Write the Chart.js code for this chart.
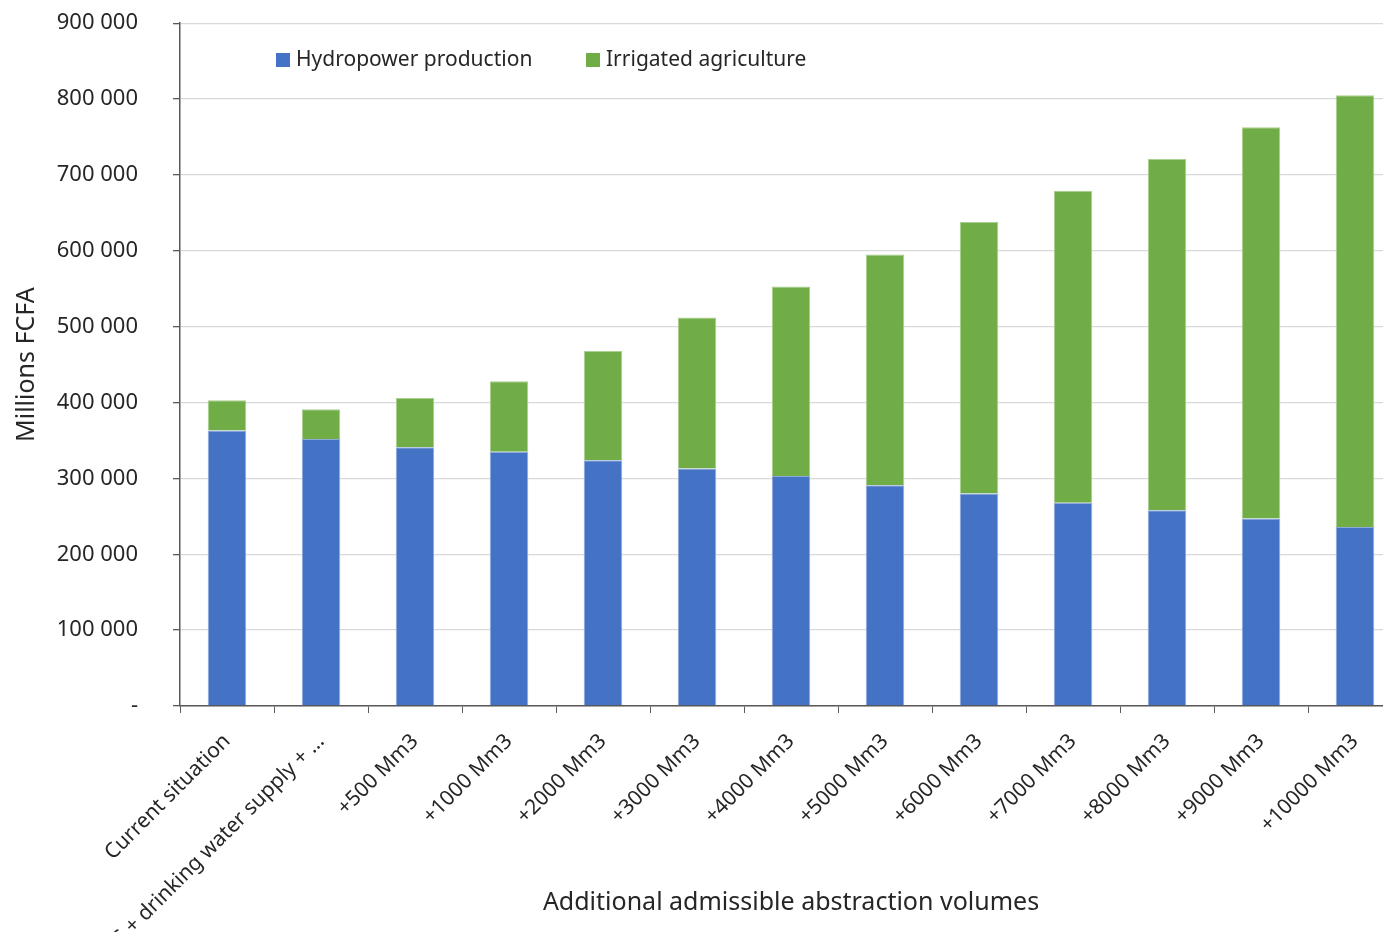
<!DOCTYPE html>
<html>
<head>
<meta charset="utf-8">
<script src="https://cdn.jsdelivr.net/npm/chart.js@4/dist/chart.umd.min.js"></script>
<style>
  html, body { margin: 0; padding: 0; background: #fff; overflow: hidden; width: 1383px; height: 932px; }
  #chart { position: absolute; left: 0; top: -25px; }
</style>
</head>
<body>
<canvas id="chart" width="1410" height="957"></canvas>
<script>
const categories = ['Current situation', 'CS + drinking water supply + \u2026', '+500 Mm3', '+1000 Mm3', '+2000 Mm3',
    '+3000 Mm3', '+4000 Mm3', '+5000 Mm3', '+6000 Mm3', '+7000 Mm3', '+8000 Mm3', '+9000 Mm3', '+10000 Mm3'];
const hydropower = [363000, 352000, 341000, 335000, 324000, 313000, 303000, 291000, 280000, 268000, 258000, 247000, 236000];
const irrigated = [40000, 39000, 65000, 93000, 144000, 199000, 250000, 304000, 358000, 411000, 463000, 516000, 569000];
const yTicks = [0, 100000, 200000, 300000, 400000, 500000, 600000, 700000, 800000, 900000];

const FONT = "'Noto Sans', sans-serif";
const textColor = '#262626';
const SHIFT = 25; // canvas is moved up by this much

// legend drawn inside the plot area, like the excel original
const insideLegend = {
    id: 'insideLegend',
    afterDraw(chart) {
        const ctx = chart.ctx;
        const spots = [[276, 296], [586, 606]];
        ctx.save();
        ctx.font = '21px ' + FONT;
        ctx.textBaseline = 'middle';
        chart.data.datasets.forEach((ds, i) => {
            const [bx, tx] = spots[i];
            ctx.fillStyle = ds.backgroundColor;
            ctx.fillRect(bx, 53 + SHIFT, 14, 14);
            ctx.fillStyle = textColor;
            ctx.fillText(ds.label, tx, 60 + SHIFT);
        });
        ctx.restore();
    }
};

const ctx = document.getElementById('chart').getContext('2d');
new Chart(ctx, {
    type: 'bar',
    data: {
        labels: categories,
        datasets: [
            {
                label: 'Hydropower production',
                data: hydropower,
                backgroundColor: '#4472C4',
                borderColor: '#8EA9DB',
                borderWidth: 1,
                barPercentage: 0.41,
                categoryPercentage: 1
            },
            {
                label: 'Irrigated agriculture',
                data: irrigated,
                backgroundColor: '#70AD47',
                borderColor: '#A9D08E',
                borderWidth: 1,
                barPercentage: 0.41,
                categoryPercentage: 1
            }
        ]
    },
    options: {
        responsive: false,
        animation: false,
        layout: { padding: { left: 0, right: 8, top: 0, bottom: 0 } },
        plugins: {
            legend: { display: false },
            tooltip: { enabled: false }
        },
        scales: {
            x: {
                stacked: true,
                afterFit: (scale) => { scale.height = 932 - 706; },
                grid: { display: true, drawOnChartArea: false, drawTicks: true, tickLength: 7, tickColor: '#595959', offset: true },
                border: { color: '#595959', width: 1.5 },
                ticks: {
                    autoSkip: false, maxRotation: 45, minRotation: 45, padding: 16,
                    color: textColor, font: { family: FONT, size: 21 }
                },
                title: {
                    display: true, text: 'Additional admissible abstraction volumes',
                    color: textColor, font: { family: FONT, size: 25 }, padding: { top: 0, bottom: 14 }
                }
            },
            y: {
                stacked: true,
                min: 0, max: 900000,
                afterFit: (scale) => { scale.width = 180; },
                afterBuildTicks: (scale) => { scale.ticks = yTicks.map(v => ({ value: v })); },
                grid: { color: '#d9d9d9', lineWidth: 1.3, tickLength: 7, tickColor: '#595959' },
                border: { color: '#595959', width: 1.5 },
                ticks: {
                    padding: 35, color: textColor, font: { family: FONT, size: 22 },
                    callback: (v) => v === 0 ? '-' : v.toString().replace(/\B(?=(\d{3})+(?!\d))/g, ' ')
                },
                title: {
                    display: true, text: 'Millions FCFA',
                    color: textColor, font: { family: FONT, size: 25 }, padding: { top: 12, bottom: 0 }
                }
            }
        }
    },
    plugins: [insideLegend]
});
</script>
</body>
</html>
